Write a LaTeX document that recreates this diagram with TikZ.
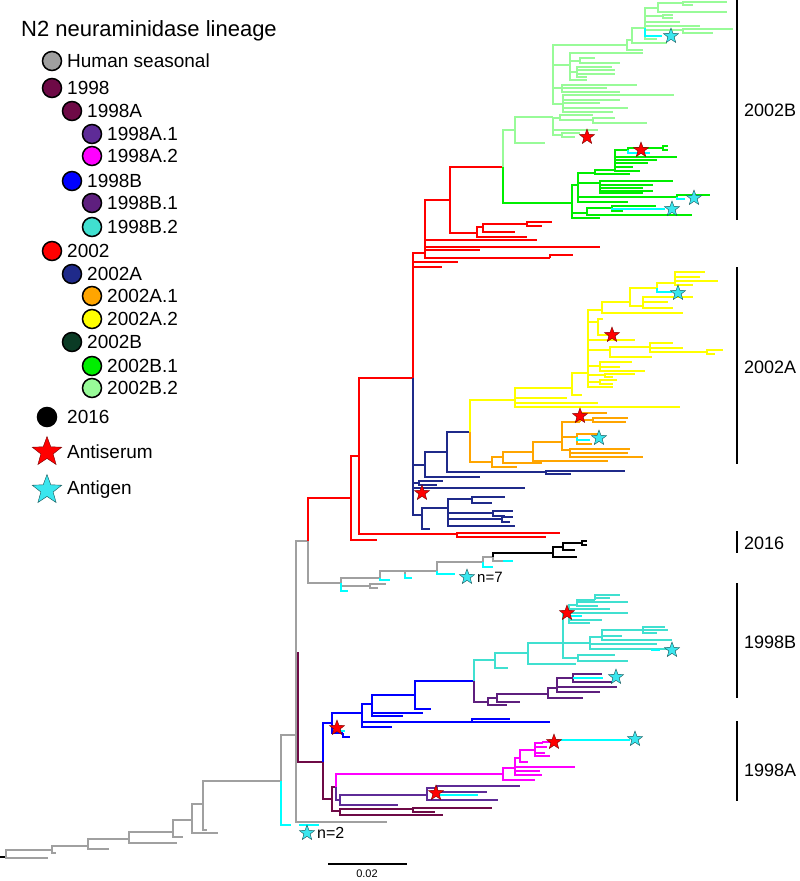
\documentclass[tikz,border=0pt]{standalone}
\usepackage{fontspec}
\setmainfont{Liberation Sans}
\usetikzlibrary{shapes.geometric}

\definecolor{hsgray}{HTML}{A0A0A0}
\definecolor{ln98}{HTML}{6E0A46}
\definecolor{ln98a1}{HTML}{5E2B97}
\definecolor{ln98a2}{HTML}{FF00FF}
\definecolor{ln98b}{HTML}{0000FF}
\definecolor{ln98b1}{HTML}{5E1F7E}
\definecolor{ln98b2}{HTML}{40E0D0}
\definecolor{ln02}{HTML}{FF0000}
\definecolor{ln02a}{HTML}{1F2A8A}
\definecolor{ln02a1}{HTML}{FFA500}
\definecolor{ln02a2}{HTML}{FFFF00}
\definecolor{ln02b}{HTML}{0B3B25}
\definecolor{ln02b1}{HTML}{00EE00}
\definecolor{ln02b2}{HTML}{98FB98}
\definecolor{agcyan}{HTML}{00FFFF}
\definecolor{agstar}{HTML}{3AE6EE}

\tikzset{
  br/.style={line width=1.9pt},
  lgdot/.style={circle,draw=black,line width=1.5pt,minimum size=19pt,inner sep=0pt},
  asr/.style={star,star points=5,star point ratio=2.4,inner sep=0pt,fill=red,draw=red!45!black,line width=0.4pt},
  agn/.style={star,star points=5,star point ratio=2.4,inner sep=0pt,fill=agstar,draw=agstar!35!black,line width=0.4pt},
  bar/.style={line width=1.6pt},
  lbl/.style={anchor=west,inner sep=0pt,font=\fontsize{18}{20}\selectfont},
  lgtxt/.style={anchor=west,inner sep=0pt,font=\fontsize{19}{22}\selectfont}
}
% one branch: vertical at x from y0 to y1, then across to x1
\newcommand{\clade}[2]{\foreach \xa/\ya/\yb/\xb in {#2} {\draw[br,#1] (\xa,\ya) |- (\xb,\yb);}}

\begin{document}
\begin{tikzpicture}[x=1pt,y=-1pt]
\useasboundingbox (0,0) rectangle (800,881);

% legend
\node[anchor=west,inner sep=0pt,font=\fontsize{22}{26}\selectfont] (title) at (21,31) {N2 neuraminidase lineage};
\foreach \ly/\lx/\lc/\lt [count=\k] in {61/52/hsgray/Human seasonal, 88/52/ln98/1998, 111/72/ln98/1998A,
  134/92/ln98a1/1998A.1, 156/92/ln98a2/1998A.2, 181/72/ln98b/1998B, 203/92/ln98b1/1998B.1,
  227/92/ln98b2/1998B.2, 251/52/ln02/2002, 274/72/ln02a/2002A, 296/92/ln02a1/2002A.1,
  319/92/ln02a2/2002A.2, 342/72/ln02b/2002B, 366/92/ln02b1/2002B.1, 388/92/ln02b2/2002B.2}
{
  \node[lgdot,fill=\lc] (dot\k) at (\lx,\ly) {};
  \node[lgtxt] (lt\k) at (\lx+15,\ly) {\lt};
}
\node[lgdot,fill=black] (dot16) at (47,417) {};
\node[lgtxt] (lt16) at (67,417) {2016};
\node[asr,minimum size=31pt] (lgas) at (47,452) {};
\node[lgtxt] (ltas) at (67,452) {Antiserum};
\node[agn,minimum size=31pt] (lgag) at (47,490) {};
\node[lgtxt] (ltag) at (67,490) {Antigen};

% human seasonal backbone
\draw[br,black] (0,857) -- (6,857);
\clade{hsgray}{6/854/850/52, 6/854/858/48, 52/850/846/88, 52/850/853/56, 88/846/839/129, 88/846/849/109,
  129/839/832/173, 129/839/843/177, 173/832/820/192, 173/832/837/183, 192/820/804/203, 192/820/833/218,
  203/804/781/281, 203/804/830/207, 281/781/735/296, 296/735/541/308, 296/735/822/387,
  308/541/583/341, 341/583/578/380, 341/583/586/370, 370/586/584/386, 370/586/588/378,
  380/578/571/405, 405/574/571/437, 437/571/562/483, 483/562/557/493, 493/557/561/503}
\clade{black}{493/557/553/553, 553/553/547/563, 553/553/557/577, 563/547/543/582, 563/547/550/575,
  582/543/541/587, 582/543/545/587}

% 2002
\clade{ln02}{308/541/498/351, 351/498/456/359, 351/498/540/377, 359/456/378/413, 359/456/534/457,
  457/534/533/560, 457/534/537/546, 413/378/253/425, 413/378/267/442, 413/378/262/458,
  425/253/200/450, 425/253/240/537, 425/253/247/600, 425/253/250/480, 425/253/258/550,
  550/258/255/573, 450/200/167/503, 450/200/233/477, 477/233/227/483, 477/233/237/527,
  483/227/224/527, 527/224/222/552, 527/224/226/542, 483/227/232/515}

% 2002A
\clade{ln02a}{413/378/465/425, 425/465/452/447, 425/465/477/480, 447/452/432/470, 447/452/472/546,
  546/472/471/625, 546/472/474/571, 413/378/483/419, 419/483/481/443, 419/483/485/437,
  413/378/488/525, 413/378/515/422, 422/515/508/448, 422/515/529/430,
  448/508/499/472, 472/499/497/505, 472/499/503/492, 448/508/513/493, 493/513/511/513, 493/513/516/505,
  448/508/519/502, 502/519/517/513, 502/519/522/510, 448/508/526/515}
\clade{ln02a1}{470/432/462/492, 492/462/457/503, 492/462/467/517, 503/457/452/533, 503/457/463/542,
  533/452/442/562, 533/452/461/608, 562/442/422/580, 562/442/437/577, 562/442/450/570,
  580/422/413/607, 580/422/420/593, 593/420/418/628, 593/420/422/626, 577/437/434/598, 577/437/444/592,
  570/450/449/630, 570/450/453/628, 570/450/457/643}
\clade{ln02a2}{470/432/400/515, 515/400/388/572, 515/400/398/567, 515/400/403/598, 515/400/407/680,
  572/388/373/588, 572/388/395/582, 588/373/310/602, 602/310/302/630, 602/310/313/683,
  630/302/288/657, 630/302/306/643, 657/288/283/675, 675/283/272/705, 675/283/277/700,
  675/283/281/718, 675/283/285/693, 643/306/297/693, 643/306/302/668, 643/306/308/673,
  588/373/322/598, 598/322/319/603, 598/322/335/612, 588/373/340/635, 588/373/350/610,
  610/350/347/650, 650/347/343/673, 650/347/348/683, 650/347/352/707, 707/352/350/723, 707/352/354/715,
  610/350/357/652, 588/373/366/600, 600/366/362/632, 600/366/367/620, 600/366/371/645,
  588/373/375/605, 605/375/374/635, 605/375/377/613, 588/373/382/600, 600/382/380/617,
  600/382/384/613, 588/373/387/613}

% 2002B
\clade{ln02b2}{503/167/130/515, 515/130/117/553, 515/130/143/545, 553/97/65/570,
  570/65/53/643, 570/65/61/580, 570/65/72/577, 570/65/80/587, 580/61/58/595, 580/61/63/620,
  577/72/67/612, 577/72/70/615, 577/72/74/615, 577/72/77/587,
  553/97/88/562, 562/88/85/637, 562/88/88/607, 562/88/92/620,
  553/97/104/563, 563/104/95/674, 563/104/100/620, 563/104/103/600, 563/104/108/628, 563/104/112/613,
  553/117/118/560, 560/118/115/593, 560/118/120/593, 593/120/118/615, 593/120/123/647,
  553/117/130/598, 553/117/135/562, 562/135/133/580, 562/135/137/575,
  553/97/45/627, 627/45/40/632, 627/45/50/643, 632/40/28/645, 645/28/8/658, 658/8/3/683,
  683/3/2/727, 683/3/5/693, 658/8/12/727, 645/28/16/663, 663/16/15/673, 663/16/18/673,
  645/28/22/680, 645/28/26/700, 645/28/30/683, 683/30/29/733, 683/30/33/713, 645/28/39/657,
  632/40/43/667}
\clade{ln02b1}{503/167/203/572, 572/203/185/578, 572/203/213/587, 572/203/218/600,
  578/185/173/595, 578/185/183/600, 578/185/197/677, 677/197/195/710, 578/185/202/628,
  595/173/170/615, 595/173/174/630, 615/170/150/628, 628/150/148/663, 663/148/146/668, 663/148/150/668,
  615/170/157/677, 615/170/160/657, 615/170/163/648, 615/170/167/633, 615/170/171/640,
  600/183/181/673, 600/183/185/653, 600/183/188/643, 600/183/191/653, 600/183/193/643,
  587/213/208/612, 587/213/215/692, 612/208/206/656, 612/208/211/623}

% 1998
\clade{ln98}{298/652/762/323, 323/762/799/332, 332/799/787/336, 332/799/811/340,
  340/811/809/413, 413/809/808/492, 413/809/812/435, 340/811/815/443}
\clade{ln98b}{323/762/723/332, 332/723/713/362, 332/723/728/340, 332/723/733/343, 343/733/737/350,
  362/713/704/372, 362/713/722/550, 472/722/719/510, 362/713/727/392,
  372/704/695/415, 372/704/713/423, 372/704/716/403, 415/695/681/474, 415/695/709/431}
\clade{ln98b2}{474/681/660/495, 495/660/653/528, 495/660/668/508, 528/653/643/563, 528/653/664/576,
  563/643/613/569, 569/613/605/577, 577/605/600/595, 595/600/595/620, 595/600/598/610,
  577/605/602/628, 577/605/606/598, 569/613/609/610, 569/613/613/628, 569/613/620/602, 569/613/623/590,
  563/643/643/590, 590/643/637/602, 602/637/630/643, 643/630/627/665, 643/630/630/668, 643/630/633/657,
  602/637/636/622, 602/637/640/672, 590/643/644/657, 590/643/649/668,
  563/643/658/578, 578/658/655/615, 578/658/661/628}
\clade{ln98b1}{474/681/702/488, 488/702/698/497, 488/702/705/507, 497/698/694/548, 497/698/702/520,
  548/694/698/583, 548/694/688/557, 557/688/687/617, 557/688/692/600, 557/688/678/573,
  573/678/674/602, 573/678/682/612}
\clade{ln98a2}{336/787/774/503, 503/774/768/515, 503/774/780/535, 515/768/758/520, 515/768/767/575,
  515/768/771/540, 515/768/775/542, 520/758/750/535, 535/750/743/543, 543/743/742/553,
  535/750/747/547, 535/750/753/545, 535/750/756/550, 520/758/762/528}
\clade{ln98a1}{336/787/800/340, 340/800/795/427, 340/800/805/398, 427/795/788/437, 427/795/800/498,
  437/788/786/520, 437/788/792/487}

% antigen branches
\clade{agcyan}{281/781/825/291, 299/825/825/319, 341/583/591/348, 380/578/580/390, 405/574/578/412,
  437/571/574/455, 483/562/567/493, 503/561/561/513, 645/28/36/662, 628/150/153/650,
  612/208/209/665, 677/197/199/685, 657/288/292/672, 577/437/440/590, 569/613/616/582,
  652/649/650/660, 573/678/678/603, 553/742/740/630, 437/788/795/478, 340/728/731/345}

% antisera and antigens
\foreach \sx/\sy [count=\k] in {587/137, 641/150, 612/335, 580/416, 422/493, 567/613, 337/728, 554/742, 436/793}
  \node[asr,minimum size=16pt] (as\k) at (\sx,\sy) {};
\foreach \sx/\sy [count=\k] in {671/36, 694/198, 672/209, 678/293, 599/438, 467/577, 672/650, 616/677, 635/739, 307/833}
  \node[agn,minimum size=16pt] (ag\k) at (\sx,\sy) {};
\node[anchor=west,inner sep=0pt,font=\fontsize{15}{17}\selectfont] (n7) at (477,577) {n=7};
\node[anchor=west,inner sep=0pt,font=\fontsize{16}{18}\selectfont] (n2) at (317,833) {n=2};

% lineage bars
\draw[bar] (737,0) -- (737,220);
\node[lbl] (c02b) at (744,110) {2002B};
\draw[bar] (737,267) -- (737,464);
\node[lbl] (c02a) at (744,367) {2002A};
\draw[bar] (737,531) -- (737,553);
\node[lbl] (c16) at (744,543) {2016};
\draw[bar] (737,583) -- (737,698);
\node[lbl] (c98b) at (744,642) {1998B};
\draw[bar] (737,721) -- (737,801);
\node[lbl] (c98a) at (744,770) {1998A};

% scale
\draw[line width=1.2pt] (328,864) -- (407,864);
\node[inner sep=0pt,font=\fontsize{11}{13}\selectfont] (sc) at (367,874) {0.02};
\end{tikzpicture}
\end{document}
